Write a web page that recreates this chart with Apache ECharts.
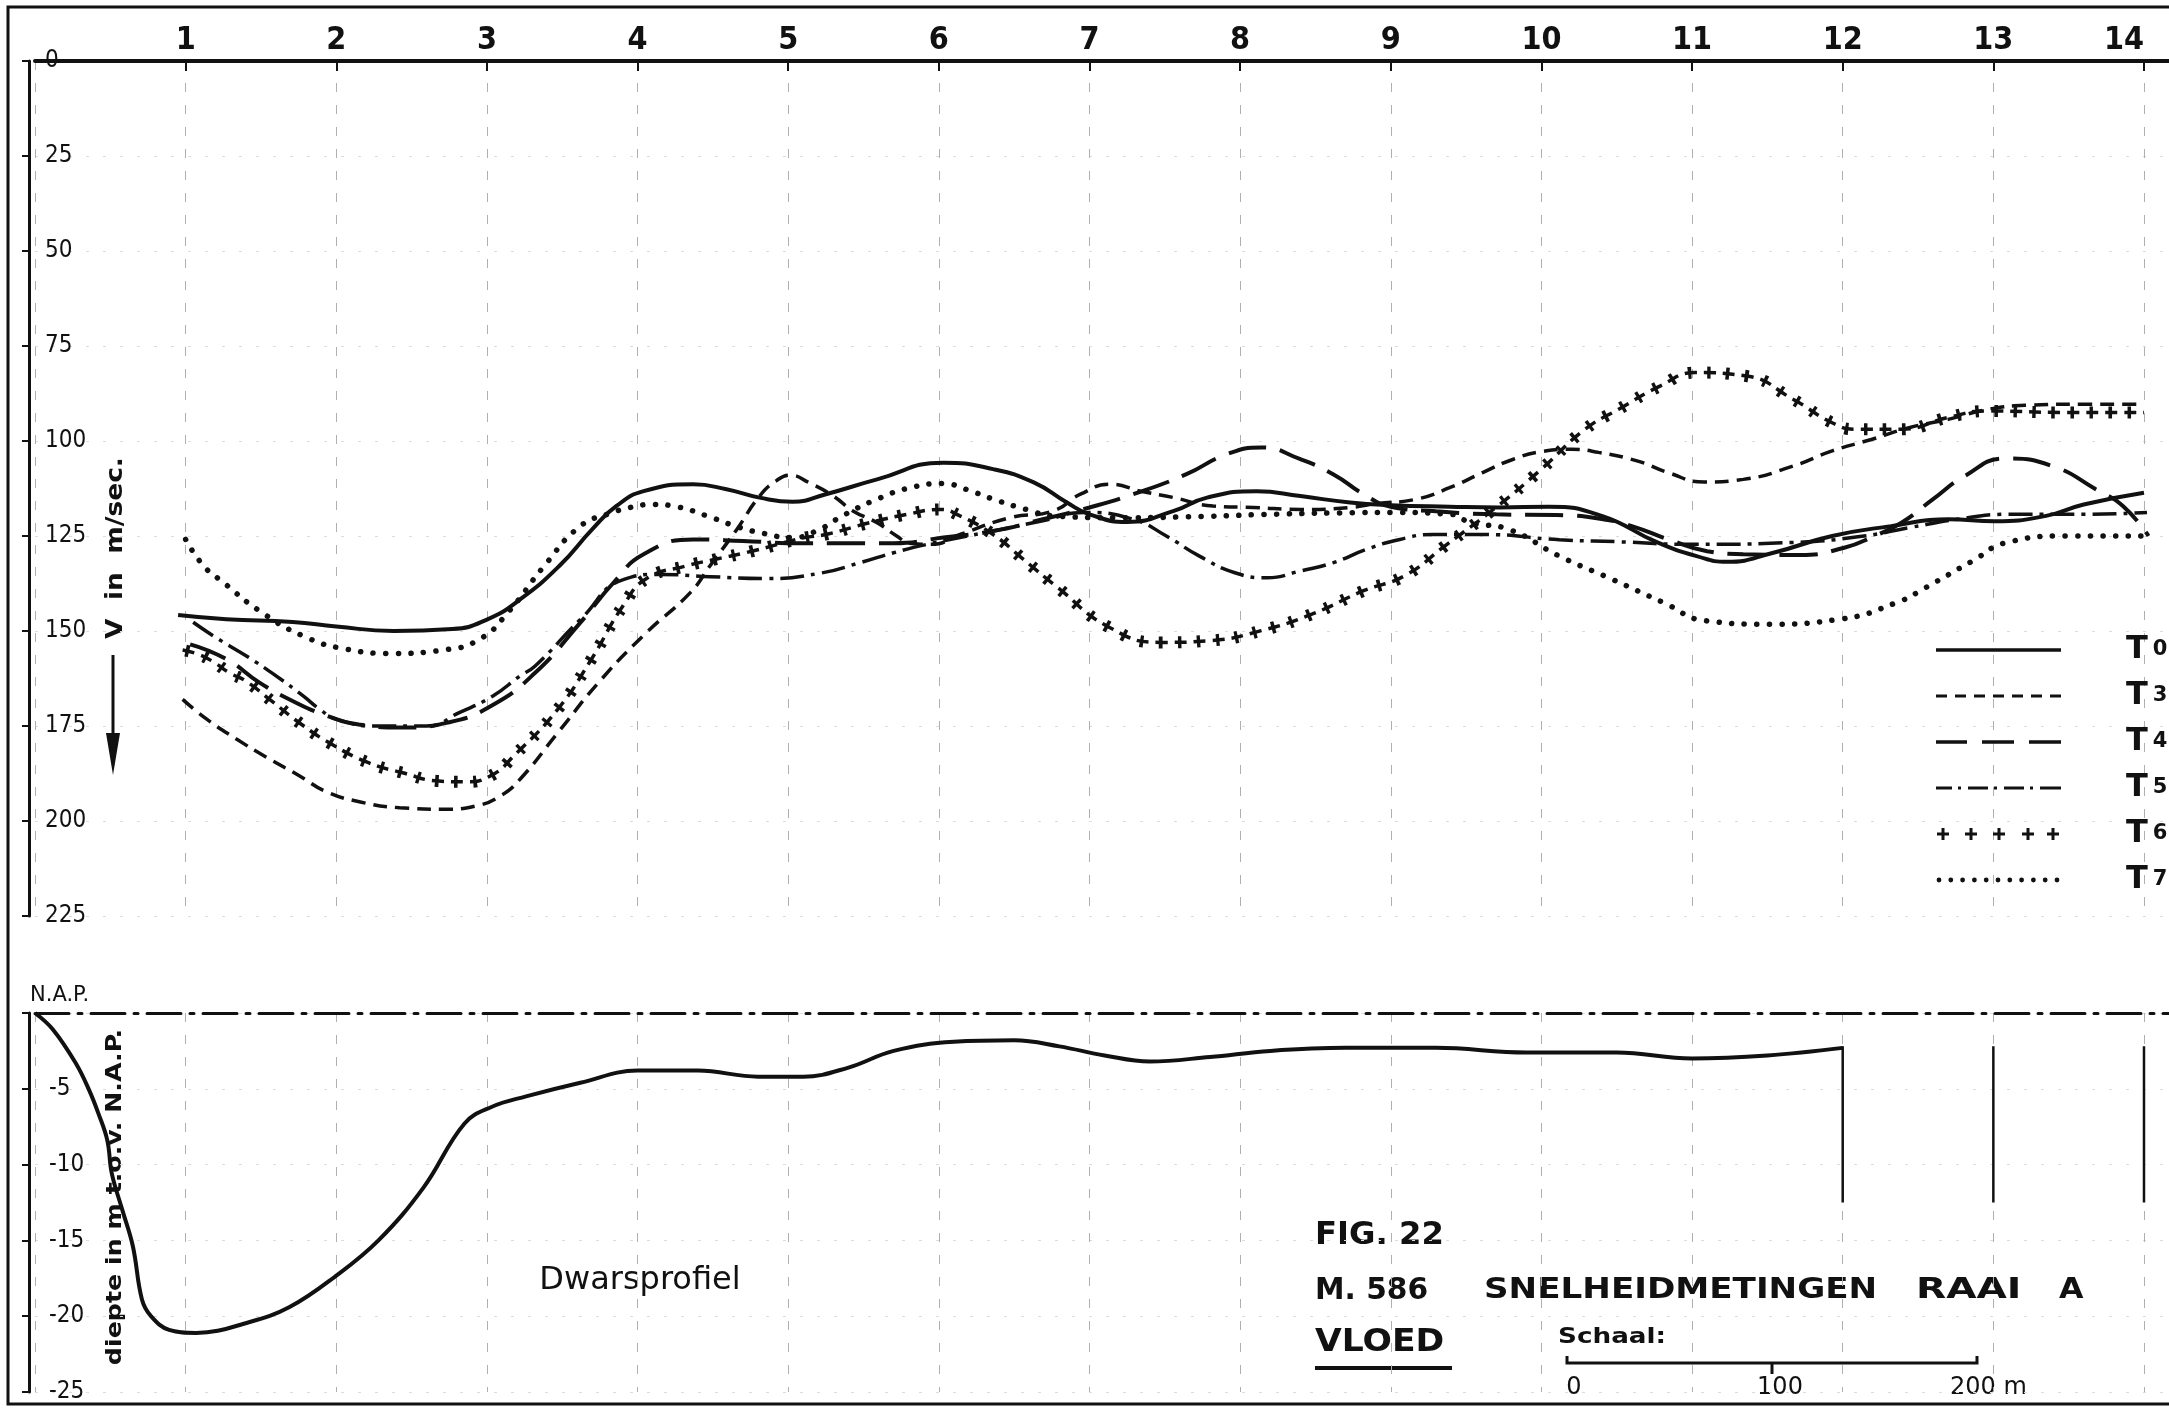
<!DOCTYPE html>
<html><head><meta charset="utf-8">
<script src="https://cdn.jsdelivr.net/npm/echarts@6/dist/echarts.min.js"></script>
<style>html,body{margin:0;padding:0;background:#fff}#c{width:2169px;height:1411px}</style>
</head><body><div id="c"></div>
<script>
// ---------- tick labels ----------
const stationTicks = [1,2,3,4,5,6,7,8,9,10,11,12,13,14];
const speedTicks = [0,25,50,75,100,125,150,175,200,225];
const depthTicks = [-25,-20,-15,-10,-5,0];
const seriesNames = ['T 0','T 3','T 4','T 5','T 6','T 7'];

// ---------- velocity series [station, V in m/sec] ----------
const T0 = [[0.95,145.8],[1.27,146.9],[1.71,147.6],[2.0,148.8],[2.38,150],[2.77,149.5],[3.0,147],[3.22,141.7],[3.48,132.9],[3.7,123.2],[3.86,117.1],[4.04,113.2],[4.37,111.4],[4.59,112.7],[4.81,114.9],[5.03,116],[5.25,114],[5.59,110.1],[6.03,105.7],[6.36,107.4],[6.63,110.9],[6.85,116.2],[7.0,119.3],[7.25,121.3],[7.56,118.4],[7.78,114.9],[8.11,113.2],[8.4,114.5],[8.73,116.2],[9.0,116.9],[9.39,117.3],[9.72,117.5],[10.05,117.3],[10.4,119.7],[10.77,126.7],[11.03,130.3],[11.23,131.8],[11.54,129.4],[11.93,125],[12.32,122.4],[12.7,120.6],[13.01,121.1],[13.35,119.7],[13.6,116.7],[14.0,113.6]];
const T3 = [[0.98,168],[1.14,173.2],[1.34,178.5],[1.54,183.3],[1.76,188.2],[1.93,192.2],[2.16,195],[2.42,196.5],[2.71,196.9],[2.93,196],[3.09,193.4],[3.22,189],[3.47,176.8],[3.76,162.7],[4.06,150.4],[4.35,139.9],[4.48,132.9],[4.66,123.2],[4.81,114.5],[4.92,110.5],[5.01,109],[5.14,111],[5.3,114.5],[5.43,118.4],[5.59,121.5],[5.72,125],[5.81,126.9],[5.95,127.2],[6.14,124.6],[6.47,120.2],[6.76,118.4],[6.94,114],[7.14,111.4],[7.34,113.2],[7.56,114.9],[7.82,117.1],[8.09,117.5],[8.4,118],[8.73,117.5],[8.9,116.5],[9.17,115.3],[9.39,112.3],[9.61,108.3],[9.8,105],[10.0,102.8],[10.2,102.2],[10.38,103],[10.64,105.3],[10.84,108.3],[11.08,110.8],[11.34,110.1],[11.67,106.6],[11.93,102.6],[12.19,99.6],[12.44,96.5],[12.7,94.3],[12.96,91.7],[13.22,90.6],[13.6,90.3],[14.0,90.3]];
const T4 = [[1.03,153.5],[1.27,157.4],[1.49,163.6],[1.71,168.4],[1.91,171.9],[2.15,174.6],[2.44,175.4],[2.74,174.1],[3.03,169.7],[3.32,161],[3.62,147.8],[3.84,137.3],[4.04,129.8],[4.37,125.9],[4.7,126.3],[5.08,126.9],[5.36,126.9],[5.7,126.9],[6.03,125.4],[6.36,123.7],[6.69,120.6],[7.0,117.5],[7.29,114],[7.64,108.8],[7.91,103.5],[8.14,101.7],[8.4,104.8],[8.62,108.8],[8.82,114],[9.0,117.3],[9.3,118.5],[9.7,119.3],[10.1,119.5],[10.4,120.5],[10.6,122.4],[10.85,126],[11.1,129],[11.34,129.8],[11.72,130],[12.01,128.1],[12.21,125],[12.39,121.5],[12.6,115.3],[12.81,109.2],[13.08,104.6],[13.4,106.7],[13.68,112.7],[13.86,117.1],[14.03,125]];
const T5 = [[1.05,147.7],[1.2,151.7],[1.42,157],[1.6,161.8],[1.78,167.1],[1.89,170.6],[2.0,173.2],[2.27,175],[2.6,175],[2.82,171.4],[3.04,167.1],[3.22,161.8],[3.32,159.2],[3.62,147],[3.91,136.4],[4.15,135.1],[4.48,135.7],[4.86,136.2],[5.21,134.8],[5.48,132],[5.7,129.4],[5.92,127.2],[6.14,125.4],[6.36,123.7],[6.69,121],[6.96,118.8],[7.29,120.6],[7.51,125],[7.73,130.3],[7.96,134.6],[8.18,136],[8.4,134.2],[8.62,132],[8.84,128.5],[9.06,125.9],[9.28,124.6],[9.61,124.6],[10.12,126],[10.5,126.5],[11.0,127.2],[11.67,126.7],[12.14,125],[12.44,122.8],[12.83,120.2],[13.09,119.3],[13.6,119.3],[14.02,118.8]];
const T6 = [[0.98,155],[1.09,156.2],[1.19,158.3],[1.29,161],[1.4,163.2],[1.57,168.4],[1.77,174.6],[1.97,179.8],[2.21,184.6],[2.44,187.3],[2.68,189.5],[2.85,189.7],[3.02,188.2],[3.19,182.4],[3.47,170.6],[3.68,158.3],[3.91,143],[4.06,136.2],[4.32,132.9],[4.52,131.1],[4.77,128.9],[5.1,125.5],[5.25,124.6],[5.54,121.5],[5.79,119.3],[6.01,118],[6.14,119.7],[6.36,124.6],[6.56,131.1],[6.79,138.6],[7.13,149],[7.47,153],[7.81,152.5],[8.14,149.9],[8.48,145.5],[8.82,139.4],[9.09,135.5],[9.36,127.6],[9.71,117.1],[10.0,107.4],[10.29,96.9],[10.51,91.7],[10.79,85.5],[11.02,82],[11.36,82.9],[11.67,89],[11.93,95.2],[12.08,96.9],[12.39,96.9],[12.7,93.8],[12.96,92.1],[13.48,92.5],[14.0,92.5]];
const T7 = [[1.0,125.9],[1.12,132.9],[1.25,137.2],[1.49,144.7],[1.78,151.3],[2.07,154.8],[2.38,155.9],[2.71,155],[2.95,152.2],[3.14,145.1],[3.38,132.9],[3.62,122.4],[3.82,119],[3.95,117.5],[4.1,116.7],[4.26,117.3],[4.46,119.7],[4.65,122.4],[4.81,124.1],[5.03,125.4],[5.21,123.2],[5.36,119.7],[5.59,115.3],[5.81,112.3],[6.03,111.2],[6.18,112.7],[6.36,115.3],[6.58,118],[6.76,119.7],[7.2,120.2],[7.7,119.9],[8.2,119.3],[8.7,118.9],[9.0,118.8],[9.4,119.3],[9.53,121.5],[9.78,123.2],[10.12,130.3],[10.47,136.4],[10.81,142.5],[11.09,147.3],[11.5,148.2],[11.98,146.9],[12.36,142.5],[12.55,138.6],[12.86,131.6],[13.09,126.7],[13.48,125],[14.0,125]];

// ---------- cross profile [station, depth m t.o.v. N.A.P.] ----------
const profile = [[0,0],[0.12,-1.1],[0.27,-3.3],[0.36,-5.1],[0.42,-6.6],[0.48,-8.4],[0.51,-10.6],[0.58,-13],[0.65,-15.4],[0.71,-18.9],[0.77,-20],[0.89,-20.9],[1.07,-21.1],[1.42,-20.4],[1.69,-19.4],[1.99,-17.4],[2.28,-15],[2.58,-11.5],[2.85,-7.3],[3.03,-6.2],[3.26,-5.5],[3.62,-4.6],[4.0,-3.8],[4.4,-3.8],[4.8,-4.2],[5.1,-4.2],[5.4,-3.6],[5.7,-2.5],[6.1,-1.9],[6.5,-1.8],[6.8,-2.2],[7.1,-2.8],[7.4,-3.2],[7.8,-2.9],[8.2,-2.5],[8.7,-2.3],[9.3,-2.3],[9.9,-2.6],[10.5,-2.6],[11.0,-3.0],[11.5,-2.8],[12.0,-2.3]];
const depthMarkStations = [12,13,14];
const depthMarkSpan = [-2.2,-12.5];

// ---------- drawing ----------
const ink = '#111';
const FONT = '"DejaVu Sans Condensed","DejaVu Sans",sans-serif';
const FONTW = '"DejaVu Sans",sans-serif';

function rectPath(x0, x1, y0, y1) { return 'M' + x0 + ',' + y0 + 'L' + x1 + ',' + y0 + 'L' + x1 + ',' + y1 + 'L' + x0 + ',' + y1 + 'Z'; }
const iconBox = 'M0,0M125,12';
function dashIcon(segs, t) { return 'path://' + iconBox + segs.map(s => rectPath(s[0], s[1], 6 - t/2, 6 + t/2)).join(''); }
function crossIcon(cs) { return 'path://' + iconBox + cs.map(c => rectPath(c-6, c+6, 4.5, 7.5) + rectPath(c-1.5, c+1.5, 0, 12)).join(''); }
function dotIcon(n, r) {
  let p = 'path://' + iconBox;
  for (let i = 0; i < n; i++) { const cx = 3 + i * 11.8; p += 'M' + (cx - r) + ',6a' + r + ',' + r + ' 0 1,0 ' + (2*r) + ',0a' + r + ',' + r + ' 0 1,0 ' + (-2*r) + ',0Z'; }
  return p;
}
const legendIcons = {
  'T 0': dashIcon([[0,125]], 3.5),
  'T 3': dashIcon([[0,11],[19,30],[38,49],[57,68],[76,87],[95,106],[114,125]], 3),
  'T 4': dashIcon([[0,31],[46,78],[93,125]], 3.5),
  'T 5': dashIcon([[0,16],[22,25],[32,52],[58,61],[68,88],[94,97],[104,125]], 3),
  'T 6': crossIcon([7,35,63,92,117]),
  'T 7': dotIcon(11, 2.4)
};

function line(name, data, style, extra) {
  return Object.assign({
    type: 'line', name: name, data: data, xAxisIndex: 0, yAxisIndex: 0,
    smooth: 0.5, symbol: 'none', silent: true, animation: false,
    color: ink, itemStyle: { color: ink },
    emphasis: { disabled: true },
    lineStyle: Object.assign({ color: ink }, style)
  }, extra || {});
}

const series = [
  line('T 0', T0, { width: 4 }),
  line('T 3', T3, { width: 3.5, type: [14, 8] }),
  line('T 4', T4, { width: 4, type: [38, 14] }),
  line('T 5', T5, { width: 3.5, type: [24, 7, 4, 7] }),
  line('T 6', T6, { width: 3.5, type: [12, 7] }),
  line('T 6', T6, { width: 12, type: [3.5, 15.5], dashOffset: 15.75 }),
  line('T 7', T7, { width: 5.5, type: [0.1, 12.5], cap: 'round' }),
  line('Dwarsprofiel', profile, { width: 4 }, { xAxisIndex: 1, yAxisIndex: 1, smooth: 0.4 })
];
depthMarkStations.forEach(s => {
  series.push(line('mark' + s, depthMarkSpan.map(d => [s, d]), { width: 2.5 }, { xAxisIndex: 1, yAxisIndex: 1, smooth: false }));
});

const xMax = 14.166;
const lastStation = stationTicks[stationTicks.length - 1];
function stationAxis(gridIndex, showLabels, lineStyle) {
  return {
    type: 'value', gridIndex: gridIndex, position: 'top', min: 0, max: xMax, interval: 1,
    axisLine: { show: true, onZero: false, lineStyle: lineStyle },
    axisTick: { show: showLabels, inside: true, length: 10, lineStyle: { color: ink, width: 2 } },
    axisLabel: {
      show: showLabels, margin: 4, color: ink, fontFamily: FONT, fontWeight: 'bold', fontSize: 32,
      showMinLabel: false, showMaxLabel: false,
      formatter: v => stationTicks.indexOf(v) < 0 ? '' : (v === lastStation ? '{e|' + v + '}' : String(v)),
      rich: { e: { fontFamily: FONT, fontWeight: 'bold', fontSize: 32, color: ink, padding: [0, 40, 0, 0] } }
    },
    splitLine: { show: true, lineStyle: { color: '#b0b0b0', width: 1, type: [9, 13] } }
  };
}

const option = {
  backgroundColor: '#fff',
  animation: false,
  color: [ink],
  grid: [
    { left: 35, right: 0, top: 61, height: 855, outerBoundsMode: 'none', containLabel: false },
    { left: 35, right: 0, top: 1013, height: 379, outerBoundsMode: 'none', containLabel: false }
  ],
  xAxis: [
    stationAxis(0, true, { color: ink, width: 4 }),
    stationAxis(1, false, { color: ink, width: 3, type: [34, 9, 4, 9] })
  ],
  yAxis: [
    {
      type: 'value', gridIndex: 0, inverse: true, min: speedTicks[0], max: speedTicks[speedTicks.length - 1], interval: 25,
      offset: 6,
      axisLine: { show: true, onZero: false, lineStyle: { color: ink, width: 3 } },
      axisTick: { show: true, length: 7, lineStyle: { color: ink, width: 2 } },
      axisLabel: { inside: true, margin: 16, color: ink, fontFamily: FONT, fontSize: 24, align: 'left' },
      splitLine: { show: true, lineStyle: { color: '#dcdcdc', width: 1, type: [3, 14] } }
    },
    {
      type: 'value', gridIndex: 1, min: depthTicks[0], max: depthTicks[depthTicks.length - 1], interval: 5,
      offset: 6,
      axisLine: { show: true, onZero: false, lineStyle: { color: ink, width: 3 } },
      axisTick: { show: true, length: 7, lineStyle: { color: ink, width: 2 } },
      axisLabel: { inside: true, margin: 20, color: ink, fontFamily: FONT, fontSize: 24, align: 'left', formatter: v => v === 0 ? '' : String(v) },
      splitLine: { show: true, lineStyle: { color: '#dcdcdc', width: 1, type: [3, 14] } }
    }
  ],
  legend: {
    show: true, orient: 'vertical', left: 1936, top: 634, padding: 0,
    itemWidth: 125, itemHeight: 12, itemGap: 14, selectedMode: false,
    symbolKeepAspect: false,
    itemStyle: { color: ink, borderWidth: 0 },
    data: seriesNames.map(n => ({ name: n, icon: legendIcons[n] })),
    formatter: n => '{g|}{t|T}{d|' + n.split(' ')[1] + '}',
    textStyle: {
      color: ink,
      rich: {
        g: { width: 60, lineHeight: 14 },
        t: { fontSize: 32, fontWeight: 'bold', fontFamily: FONTW, lineHeight: 14, color: ink },
        d: { fontSize: 21, fontWeight: 'bold', fontFamily: FONTW, lineHeight: 14, padding: [0, 0, 0, 5], color: ink }
      }
    }
  },
  series: series,
  graphic: [
    { type: 'rect', silent: true, z: 100, shape: { x: 8, y: 7, width: 2220, height: 1397 }, style: { fill: null, stroke: ink, lineWidth: 3 } },
    { type: 'text', silent: true, x: 116, y: 548, rotation: Math.PI / 2, scaleX: 1.15,
      style: { text: 'V  in  m/sec.', font: 'bold 23px ' + FONTW, fill: ink, align: 'center', verticalAlign: 'middle' } },
    { type: 'line', silent: true, shape: { x1: 113, y1: 655, x2: 113, y2: 745 }, style: { stroke: ink, lineWidth: 3 } },
    { type: 'polygon', silent: true, shape: { points: [[106, 733], [120, 733], [113, 775]] }, style: { fill: ink } },
    { type: 'text', silent: true, x: 115, y: 1197, rotation: Math.PI / 2, scaleX: 1.15,
      style: { text: 'diepte in m t.o.v. N.A.P.', font: 'bold 22px ' + FONTW, fill: ink, align: 'center', verticalAlign: 'middle' } },
    { type: 'text', silent: true, x: 30, y: 996,
      style: { text: 'N.A.P.', font: '21px ' + FONTW, fill: ink, align: 'left', verticalAlign: 'middle' } },
    { type: 'text', silent: true, x: 640, y: 1281,
      style: { text: 'Dwarsprofiel', font: '32px ' + FONTW, fill: ink, align: 'center', verticalAlign: 'middle' } },
    { type: 'text', silent: true, x: 1315, y: 1236, scaleX: 1.12,
      style: { text: 'FIG. 22', font: 'bold 32px ' + FONT, fill: ink, align: 'left', verticalAlign: 'middle' } },
    { type: 'text', silent: true, x: 1315, y: 1291, scaleX: 1.1,
      style: { text: 'M. 586', font: 'bold 30px ' + FONT, fill: ink, align: 'left', verticalAlign: 'middle' } },
    { type: 'text', silent: true, x: 1484, y: 1291, scaleX: 1.22,
      style: { text: 'SNELHEIDMETINGEN', font: 'bold 28px ' + FONTW, fill: ink, align: 'left', verticalAlign: 'middle' } },
    { type: 'text', silent: true, x: 1916, y: 1291, scaleX: 1.4,
      style: { text: 'RAAI', font: 'bold 28px ' + FONTW, fill: ink, align: 'left', verticalAlign: 'middle' } },
    { type: 'text', silent: true, x: 2059, y: 1291, scaleX: 1.13,
      style: { text: 'A', font: 'bold 28px ' + FONTW, fill: ink, align: 'left', verticalAlign: 'middle' } },
    { type: 'text', silent: true, x: 1315, y: 1343, scaleX: 1.08,
      style: { text: 'VLOED', font: 'bold 32px ' + FONTW, fill: ink, align: 'left', verticalAlign: 'middle' } },
    { type: 'line', silent: true, shape: { x1: 1315, y1: 1368, x2: 1452, y2: 1368 }, style: { stroke: ink, lineWidth: 4 } },
    { type: 'text', silent: true, x: 1558, y: 1338, scaleX: 1.25,
      style: { text: 'Schaal:', font: 'bold 21px ' + FONTW, fill: ink, align: 'left', verticalAlign: 'middle' } },
    { type: 'polyline', silent: true, shape: { points: [[1567, 1356], [1567, 1363], [1977, 1363], [1977, 1356]] }, style: { stroke: ink, lineWidth: 3, fill: null } },
    { type: 'line', silent: true, shape: { x1: 1772, y1: 1363, x2: 1772, y2: 1374 }, style: { stroke: ink, lineWidth: 3 } },
    { type: 'text', silent: true, x: 1574, y: 1388,
      style: { text: '0', font: '24px ' + FONTW, fill: ink, align: 'center', verticalAlign: 'middle' } },
    { type: 'text', silent: true, x: 1780, y: 1388,
      style: { text: '100', font: '24px ' + FONTW, fill: ink, align: 'center', verticalAlign: 'middle' } },
    { type: 'text', silent: true, x: 1950, y: 1388,
      style: { text: '200 m', font: '24px ' + FONTW, fill: ink, align: 'left', verticalAlign: 'middle' } }
  ]
};

const chart = echarts.init(document.getElementById('c'), null, { renderer: 'canvas', width: 2169, height: 1411 });
chart.setOption(option);
</script>
</body></html>
